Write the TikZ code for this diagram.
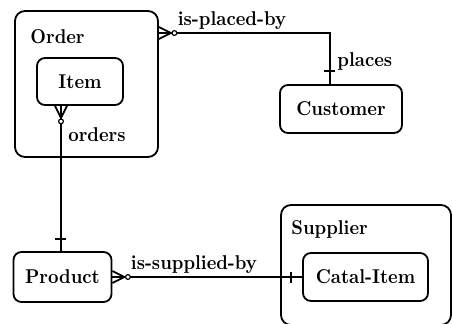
\documentclass[tikz,border=0pt]{standalone}
\usepackage{fontspec}
\setmainfont{lmroman10}[Extension=.otf, UprightFont=*-regular, BoldFont=*-bold, FakeStretch=0.91]
\usetikzlibrary{calc}

\tikzset{
  entity/.style={draw, line width=0.9pt, rounded corners=4pt, inner sep=0pt,
    font=\fontsize{10}{12}\selectfont\bfseries},
  lbl/.style={font=\fontsize{10}{12}\selectfont\bfseries, inner sep=1pt},
  rel/.style={line width=0.9pt}
}

% many (optional) end: crow's foot on the box edge, open circle after it
\newcommand{\manyopt}[2]{%
  \begin{scope}[shift={(#1)}, rotate=#2]
    \draw[rel] (0,-6) -- (12,0) -- (0,6) (0,0) -- (12,0);
    \draw[line width=0.6pt, fill=white] (15.5,0) circle (2.4);
  \end{scope}}

% one (mandatory) end: a short bar across the line
\newcommand{\onetick}[2]{%
  \begin{scope}[shift={(#1)}, rotate=#2]
    \draw[rel] (0,-5.5) -- (0,5.5);
  \end{scope}}

\begin{document}
\begin{tikzpicture}[x=0.5pt, y=-0.5pt]

\useasboundingbox (0,0) rectangle (452,323);
\clip (0,0) rectangle (452,323);

% Aggregate Order with its Item
\node[entity, rounded corners=5pt, minimum width=71.5pt, minimum height=73pt] (order) at (86.5,84) {};
\node[lbl, anchor=west] (orderlbl) at (28,37) {Order};
\node[entity, minimum width=43pt, minimum height=23.5pt] (item) at (80,81.5) {Item};

% Aggregate Supplier with its Catal-Item (runs off the page)
\node[entity, rounded corners=5pt, minimum width=85pt, minimum height=60pt] (supplier) at (366,265) {};
\node[lbl, anchor=west] (supplierlbl) at (289,229) {Supplier};
\node[entity, minimum width=62.5pt, minimum height=24pt] (catal) at (365.5,277) {Catal-Item};

% Plain entities
\node[entity, minimum width=61pt, minimum height=24pt] (customer) at (341,109) {Customer};
\node[entity, minimum width=49pt, minimum height=25pt] (product) at (62.5,277) {Product};

% is-placed-by / places
\coordinate (pbY) at (0,33);
\coordinate (pbX) at (330,0);
\coordinate (pbA) at (order.east |- pbY);
\coordinate (pbB) at (pbX |- pbY);
\coordinate (pbC) at (pbX |- customer.north);
\draw[rel] (pbA) -- (pbB) -- (pbC);
\manyopt{pbA}{0}
\coordinate (pbT) at ($(pbC)+(0,-13)$);
\onetick{pbT}{90}
\node[lbl] (pblbl) at (232,21) {is-placed-by};
\node[lbl, anchor=west] (plbl) at (335,61) {places};

% orders
\coordinate (orX) at (61,0);
\coordinate (orA) at (orX |- item.south);
\coordinate (orB) at (orX |- product.north);
\draw[rel] (orA) -- (orB);
\manyopt{orA}{-90}
\coordinate (orT) at ($(orB)+(0,-12)$);
\onetick{orT}{90}
\node[lbl, anchor=west] (orlbl) at (66,135) {orders};

% is-supplied-by
\draw[rel] (product.east) -- (catal.west);
\manyopt{product.east}{0}
\coordinate (sbT) at ($(catal.west)+(-11,0)$);
\onetick{sbT}{0}
\node[lbl] (sblbl) at (194,265) {is-supplied-by};

\end{tikzpicture}
\end{document}
